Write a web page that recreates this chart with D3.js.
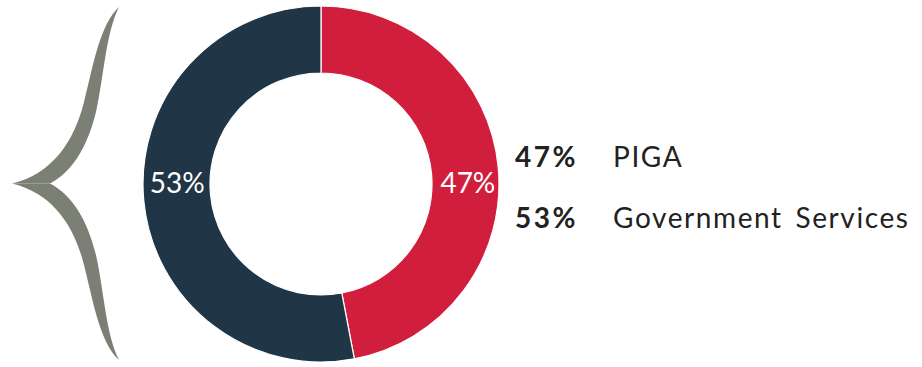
<!DOCTYPE html>
<html>
<head>
<meta charset="utf-8">
<script src="https://cdn.jsdelivr.net/npm/d3@7"></script>
<style>
  html, body { margin: 0; padding: 0; background: #ffffff; }
  svg { display: block; }
  text { font-family: Lato, "Open Sans", sans-serif; }
</style>
</head>
<body>
<script>
// Share of spend by area
const categories = ["PIGA", "Government Services"];
const values = [47, 53];
const colors = ["#d21e3d", "#203647"];
const valueLabels = ["47%", "53%"];

const W = 922, H = 367;
const cx = 321, cy = 184;
const outerR = 178, innerR = 111;

const svg = d3.select("body").append("svg")
  .attr("width", W).attr("height", H);

// Decorative curly brace on the left
const braceColor = "#7b7f74";
const upperArm = "M119,7 C100,25 94,62 84,102 C74,142 52,174 12,183.5 " +
                 "L50,183.5 C72,172 87,148 96,112 C104,76 106,32 119,7 Z";
svg.append("path").attr("d", upperArm).attr("fill", braceColor);
svg.append("path").attr("d", upperArm).attr("fill", braceColor)
  .attr("transform", `translate(0,${2 * 183.5}) scale(1,-1)`);

// Donut
const data = categories.map((c, i) => ({ name: c, value: values[i], color: colors[i], label: valueLabels[i] }));
const pie = d3.pie().value(d => d.value).sort(null);
const arc = d3.arc().innerRadius(innerR).outerRadius(outerR);
const arcs = pie(data);

const g = svg.append("g").attr("transform", `translate(${cx},${cy})`);
g.selectAll("path.slice")
  .data(arcs)
  .join("path")
  .attr("class", "slice")
  .attr("d", arc)
  .attr("fill", d => d.data.color)
  .attr("stroke", "#ffffff")
  .attr("stroke-width", 1.2);

g.selectAll("text.val")
  .data(arcs)
  .join("text")
  .attr("class", "val")
  .attr("x", d => arc.centroid(d)[0] + (d.data.value < 50 ? 3 : 0))
  .attr("y", 9)
  .attr("text-anchor", "middle")
  .attr("font-size", 28)
  .attr("fill", "#ffffff")
  .text(d => d.data.label);

// Legend
const legend = svg.append("g");
const rows = legend.selectAll("g")
  .data(data)
  .join("g")
  .attr("transform", (d, i) => `translate(515,${167 + i * 61})`);
rows.append("text")
  .attr("font-size", 28)
  .attr("font-weight", 700)
  .attr("letter-spacing", 2.5)
  .attr("fill", "#222222")
  .text(d => d.label);
rows.append("text")
  .attr("x", 98)
  .attr("font-size", 28)
  .attr("fill", "#222222")
  .attr("letter-spacing", 1.6)
  .attr("word-spacing", 4)
  .text(d => d.name);
</script>
</body>
</html>
